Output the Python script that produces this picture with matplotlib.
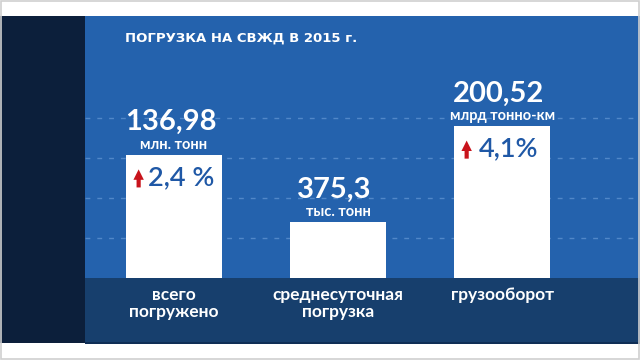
import matplotlib
matplotlib.use('Agg')
import matplotlib.pyplot as plt
from matplotlib.patches import Rectangle
from matplotlib.transforms import offset_copy

# data
title = 'ПОГРУЗКА НА СВЖД В 2015 г.'
categories = ['всего\nпогружено', 'среднесуточная\nпогрузка', 'грузооборот']
values = [136.98, 375.3, 200.52]
units = ['млн. тонн', 'тыс. тонн', 'млрд тонно-км']
growth = ['2,4 %', '', '4,1%']
bar_heights = [3.08, 1.4, 3.8]   # drawn height in grid steps (units differ per bar)

BLUE = '#2462ad'
BAND = '#173f6d'
NAVY = '#0c1f3b'
GRID = '#5187c8'
TXT_BLUE = '#1f58a6'
RED = '#c8141c'

plt.rcParams['font.family'] = ['Lato', 'DejaVu Sans']

W, H = 640, 360
fig = plt.figure(figsize=(6.4, 3.6), dpi=100, facecolor='white')


def px(x, y, w, h):
    # pixel box (top-left origin) -> figure fraction
    return [x / W, 1 - (y + h) / H, w / W, h / H]


# background panels
for box, col in [(px(0, 16, 85, 327), NAVY), (px(85, 278, 555, 65), BAND),
                 (px(85, 342, 555, 1.5), '#0f2e55')]:
    fig.patches.append(Rectangle(box[:2], box[2], box[3], transform=fig.transFigure,
                                 facecolor=col, edgecolor='none', zorder=0))
fig.patches.append(Rectangle((0.0008, 0.0014), 0.998, 0.997, transform=fig.transFigure,
                             facecolor='none', edgecolor='#cfcfcf', lw=1.2, zorder=5))

ax = fig.add_axes(px(85, 16, 555, 262))
ax.set_zorder(2)
ax.set_facecolor(BLUE)
for s in ax.spines.values():
    s.set_visible(False)
ax.set_xticks([])
ax.set_yticks([])
ax.set_ylim(0, 6.55)
ax.set_xlim(-0.543, 2.841)

for g in [1, 2, 3, 4]:
    ax.axhline(g, color=GRID, lw=1, dashes=(3.5, 5), zorder=1)

x = list(range(len(categories)))
ax.bar(x, bar_heights, width=0.585, color='white', zorder=2)

for i, (v, u, gr, h) in enumerate(zip(values, units, growth, bar_heights)):
    ax.annotate(str(v).replace('.', ','), (i, h), xytext=(-2.5, 23.5), textcoords='offset points',
                ha='center', va='center', fontsize=21, fontweight='bold', color='white', zorder=4)
    ax.annotate(u, (i, h), xytext=(0, 7.3), textcoords='offset points',
                ha='center', va='center', fontsize=10.5, fontweight='bold', color='white', zorder=4)
    if gr:
        ax.annotate(gr, (i, h), xytext=(5, -16.5), textcoords='offset points',
                    ha='center', va='center', fontsize=19.5, fontweight='semibold',
                    color=TXT_BLUE, zorder=4)
        tip = offset_copy(ax.transData, fig=fig, x=-25.5, y=-10.5, units='points')
        tail = offset_copy(ax.transData, fig=fig, x=-25.5, y=-23.5, units='points')
        ax.annotate('', xy=(i, h), xycoords=tip, xytext=(i, h), textcoords=tail,
                    arrowprops=dict(arrowstyle='simple,head_length=0.75,head_width=0.75,tail_width=0.3',
                                    color=RED, lw=0, shrinkA=0, shrinkB=0), zorder=4)
    ax.annotate(categories[i], (i, 0), xytext=(0, -6.5), textcoords='offset points',
                ha='center', va='top', fontsize=12.5, fontweight='bold', color='white',
                linespacing=1.1, annotation_clip=False, zorder=4)

fig.text(125 / W, 1 - 38 / H, title, ha='left', va='center', fontsize=9.5,
         fontweight='bold', color='white', family=['DejaVu Sans'])

fig.savefig('out.png', dpi=100, facecolor='white')
